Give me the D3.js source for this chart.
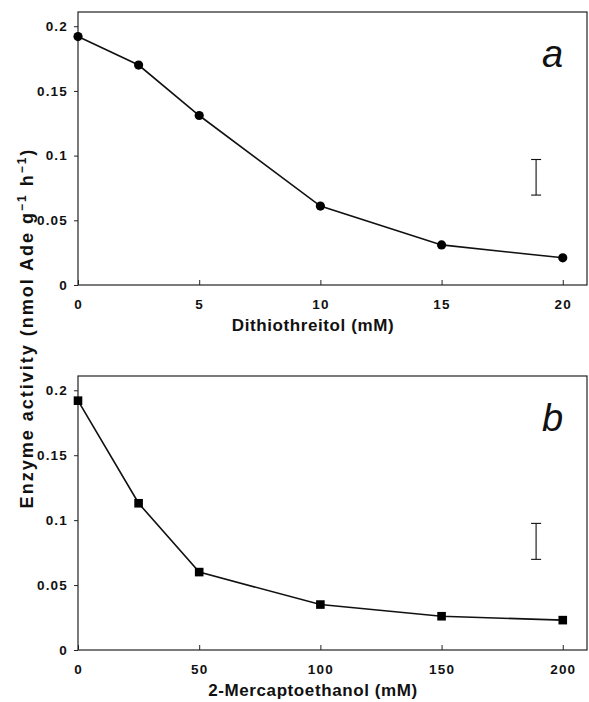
<!DOCTYPE html>
<html>
<head>
<meta charset="utf-8">
<script src="https://cdn.jsdelivr.net/npm/d3@7/dist/d3.min.js"></script>
<style>
  body { margin: 0; background: #fff; }
  text { font-family: "Liberation Sans", Arial, sans-serif; fill: #111; }
</style>
</head>
<body>
<div id="chart"></div>
<script>
// Panel a: dithiothreitol
const dttConc = [0, 2.5, 5, 10, 15, 20];
const dttActivity = [0.192, 0.170, 0.131, 0.061, 0.031, 0.021];
const dttTicks = [0, 5, 10, 15, 20];

// Panel b: 2-mercaptoethanol
const meConc = [0, 25, 50, 100, 150, 200];
const meActivity = [0.192, 0.113, 0.060, 0.035, 0.026, 0.023];
const meTicks = [0, 50, 100, 150, 200];

const yTicks = [0, 0.05, 0.1, 0.15, 0.2];
const yTickLabels = ['0', '0.05', '0.1', '0.15', '0.2'];

// representative error bar (low, high) shown at right of each panel
const dttErr = [0.0695, 0.097];
const meErr = [0.0698, 0.0975];

const width = 589, height = 702;
const svg = d3.select('#chart').append('svg')
    .attr('width', width)
    .attr('height', height);

const panels = [
    { x: dttConc, y: dttActivity, ticks: dttTicks, xMax: 21, err: dttErr, errX: 18.9,
      top: 12, bottom: 285, title: 'Dithiothreitol (mM)', letter: 'a', marker: 'circle' },
    { x: meConc, y: meActivity, ticks: meTicks, xMax: 210, err: meErr, errX: 189,
      top: 376, bottom: 650, title: '2-Mercaptoethanol (mM)', letter: 'b', marker: 'square' }
];

const left = 78, right = 587;

panels.forEach(p => {
    const x = d3.scaleLinear().domain([0, p.xMax]).range([left, right]);
    const y = d3.scaleLinear().domain([0, 0.211]).range([p.bottom, p.top]);
    const g = svg.append('g');

    // frame
    g.append('rect')
        .attr('x', left).attr('y', p.top)
        .attr('width', right - left).attr('height', p.bottom - p.top)
        .attr('fill', 'none').attr('stroke', '#222').attr('stroke-width', 1.2);

    // x axis (inward ticks)
    const xAxis = g.append('g')
        .attr('transform', `translate(0,${p.bottom})`)
        .call(d3.axisBottom(x).tickValues(p.ticks).tickSize(-5).tickPadding(14).tickFormat(d3.format('d')));
    xAxis.select('.domain').remove();
    xAxis.selectAll('line').attr('stroke', '#222');
    xAxis.selectAll('text')
        .style('font-size', '13.5px').style('font-weight', 'bold')
        .style('letter-spacing', '1.2px').attr('fill', '#111');

    // y axis
    const yAxis = g.append('g')
        .attr('transform', `translate(${left},0)`)
        .call(d3.axisLeft(y).tickValues(yTicks).tickSize(4).tickPadding(6)
            .tickFormat((d, i) => yTickLabels[i]));
    yAxis.select('.domain').remove();
    yAxis.selectAll('line').attr('stroke', '#222');
    yAxis.selectAll('text')
        .style('font-size', '13.5px').style('font-weight', 'bold')
        .style('letter-spacing', '1.2px').attr('fill', '#111');

    // axis title
    g.append('text')
        .attr('x', 313).attr('y', p.bottom + 46)
        .attr('text-anchor', 'middle')
        .style('font-size', '17px').style('font-weight', 'bold')
        .style('letter-spacing', '0.6px')
        .text(p.title);

    // data line
    const pts = p.x.map((d, i) => [d, p.y[i]]);
    g.append('path')
        .datum(pts)
        .attr('fill', 'none').attr('stroke', '#111').attr('stroke-width', 1.6)
        .attr('d', d3.line().x(d => x(d[0])).y(d => y(d[1])));

    if (p.marker === 'circle') {
        g.selectAll('circle.pt').data(pts).join('circle')
            .attr('class', 'pt')
            .attr('cx', d => x(d[0])).attr('cy', d => y(d[1]))
            .attr('r', 4.6).attr('fill', '#000');
    } else {
        g.selectAll('rect.pt').data(pts).join('rect')
            .attr('class', 'pt')
            .attr('x', d => x(d[0]) - 4.3).attr('y', d => y(d[1]) - 4.3)
            .attr('width', 8.6).attr('height', 8.6).attr('fill', '#000');
    }

    // error bar
    const ex = x(p.errX);
    g.append('line')
        .attr('x1', ex).attr('x2', ex)
        .attr('y1', y(p.err[0])).attr('y2', y(p.err[1]))
        .attr('stroke', '#111').attr('stroke-width', 1.1);
    p.err.forEach(v => {
        g.append('line')
            .attr('x1', ex - 5).attr('x2', ex + 5)
            .attr('y1', y(v)).attr('y2', y(v))
            .attr('stroke', '#111').attr('stroke-width', 1.1);
    });

    // panel letter
    g.append('text')
        .attr('x', 542).attr('y', p.top + 55)
        .style('font-size', '38px').style('font-style', 'italic')
        .text(p.letter);
});

// shared y axis title
const yt = svg.append('text')
    .attr('transform', 'translate(33,328) rotate(-90)')
    .attr('text-anchor', 'middle')
    .style('font-size', '18px').style('font-weight', 'bold')
    .style('letter-spacing', '2px');
yt.append('tspan').text('Enzyme activity (nmol Ade g');
yt.append('tspan').attr('dy', -7).style('font-size', '12px').text('−1');
yt.append('tspan').attr('dy', 7).text(' h');
yt.append('tspan').attr('dy', -7).style('font-size', '12px').text('−1');
yt.append('tspan').attr('dy', 7).text(')');
</script>
</body>
</html>
